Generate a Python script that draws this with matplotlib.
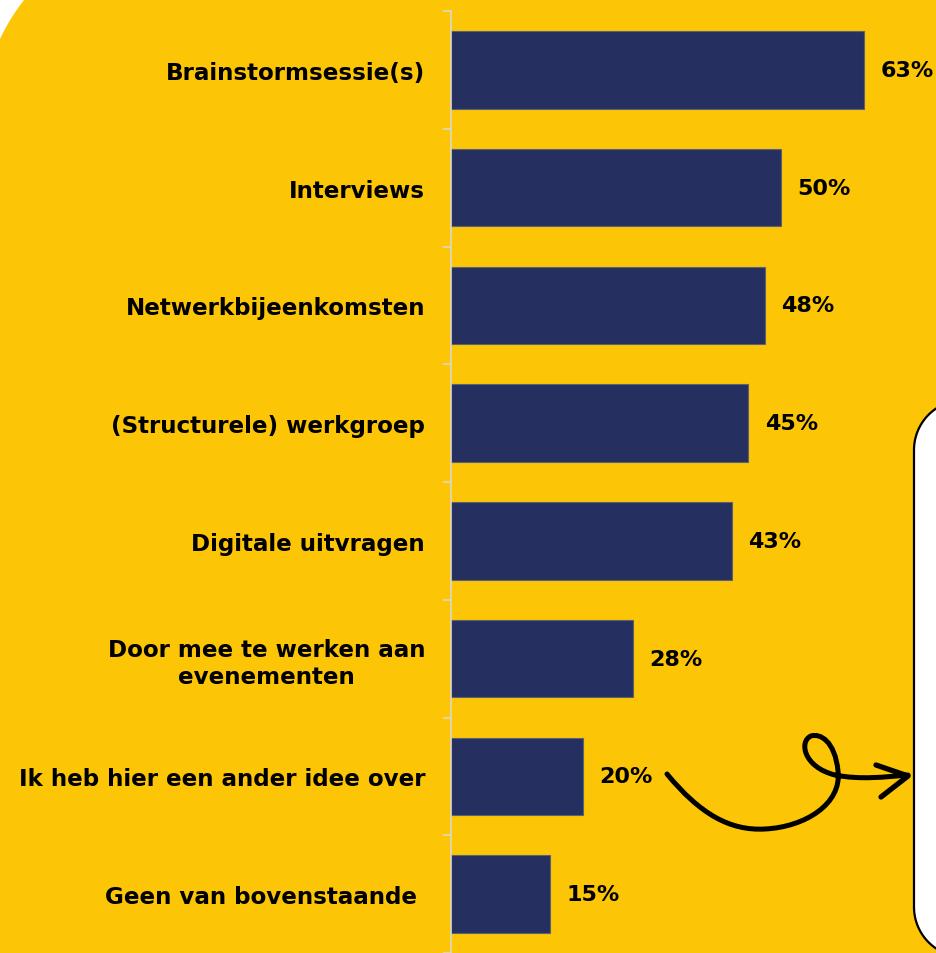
import numpy as np
import matplotlib.pyplot as plt
from matplotlib.patches import PathPatch, Polygon
from matplotlib.path import Path

categories = [
    "Brainstormsessie(s)",
    "Interviews",
    "Netwerkbijeenkomsten",
    "(Structurele) werkgroep",
    "Digitale uitvragen",
    "Door mee te werken aan\nevenementen",
    "Ik heb hier een ander idee over",
    "Geen van bovenstaande ",
]
values = [62.5, 50.0, 47.5, 45.0, 42.5, 27.5, 20.0, 15.0]
pct_labels = ["63%", "50%", "48%", "45%", "43%", "28%", "20%", "15%"]

YELLOW = "#FCC505"
NAVY = "#253061"
W, H = 936, 954


def arc(cx, cy, r, a0, a1, n=40):
    t = np.radians(np.linspace(a0, a1, n))
    return list(zip(cx + r * np.cos(t), cy + r * np.sin(t)))


def rounded_rect(x0, y0, w, h, r):
    # rounded rectangle with circular corners (pixel coords, y down)
    return (arc(x0 + r, y0 + r, r, 180, 270) + arc(x0 + w - r, y0 + r, r, 270, 360)
            + arc(x0 + w - r, y0 + h - r, r, 0, 90) + arc(x0 + r, y0 + h - r, r, 90, 180))


fig = plt.figure(figsize=(W / 100, H / 100), dpi=100, facecolor="white")

# background layer in pixel units (y downwards)
bg = fig.add_axes([0, 0, 1, 1], zorder=0)
bg.set_xlim(0, W)
bg.set_ylim(H, 0)
bg.set_facecolor(YELLOW)
bg.set_xticks([])
bg.set_yticks([])
for s in bg.spines.values():
    s.set_visible(False)
# white rounded corner at top-left
bg.add_patch(Polygon([(-20, -20)] + arc(181, 125, 200, 200, 225), closed=True,
                     facecolor="white", edgecolor="none"))
# white text box on the right
bg.add_patch(Polygon(rounded_rect(914, 401, 300, 557, 50), closed=True,
                     facecolor="white", edgecolor="black", lw=1.6))

# curly arrow pointing to the box
verts = [(667, 775), (700, 815), (730, 832), (765, 830),
         (805, 828), (842, 805), (838, 772),
         (835, 742), (820, 734), (811, 737),
         (799, 742), (803, 768), (835, 776),
         (860, 781), (885, 778), (908, 776)]
codes = [Path.MOVETO] + [Path.CURVE4] * 15
bg.add_patch(PathPatch(Path(verts, codes), facecolor="none", edgecolor="black",
                       lw=3.6, capstyle="round", joinstyle="round"))
bg.plot([876, 908, 881], [766, 777, 798], color="black", lw=3.8,
        solid_capstyle="round", solid_joinstyle="round")

# chart
ax = fig.add_axes([451 / W, 0, 1 - 451 / W, 1 - 12 / H], zorder=1)
ax.set_facecolor("none")
y = np.arange(len(categories))
bars = ax.barh(y, values, height=0.66, color=NAVY, edgecolor="#5b6272", linewidth=0.8)
ax.bar_label(bars, labels=pct_labels, padding=12, fontsize=16, fontweight="bold",
             color="black")

ax.set_xlim(0, (W - 451) / 6.6)
ax.set_ylim(-0.5 + 942 / 118.1, -0.5)
ax.set_yticks(y)
ax.set_yticklabels(categories, fontsize=16.6, fontweight="bold", color="black")
ax.set_yticks(np.arange(-0.5, len(categories), 1.0), minor=True)
ax.tick_params(axis="y", which="major", length=0, pad=18.7)
ax.tick_params(axis="y", which="minor", length=5.8, width=1.1, color="#D9D9D9")
for lab in ax.get_yticklabels():
    if "\n" in lab.get_text():
        lab.set_multialignment("center")
ax.xaxis.set_visible(False)
for s in ["top", "right", "bottom"]:
    ax.spines[s].set_visible(False)
ax.spines["left"].set_color("#D9D9D9")
ax.spines["left"].set_linewidth(1.1)

fig.savefig("out.png", dpi=100, facecolor="white")
